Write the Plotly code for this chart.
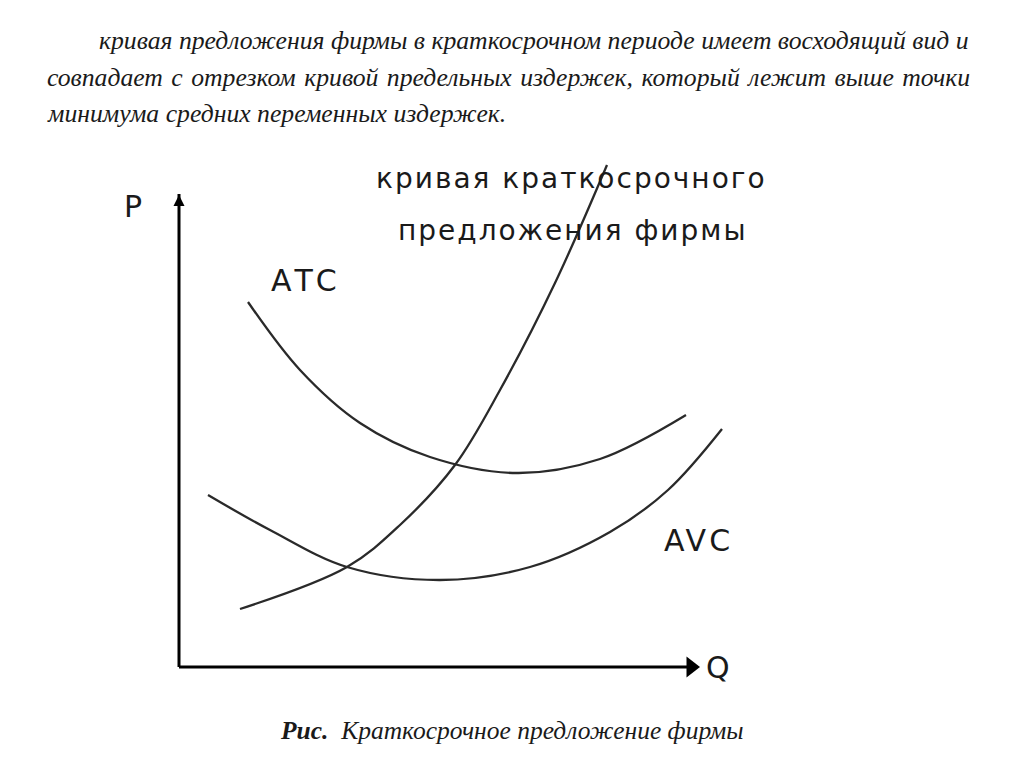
import plotly.graph_objects as go

# Axis origin placed so that one chart unit equals one screen pixel
X0, Y0 = 179, 667

# Cost curves: (Q, P) points along each curve
atc_q = [69, 121, 181, 251, 338, 421, 507]
atc_p = [365, 297, 244, 210, 194, 208, 252]

avc_q = [29, 91, 168, 261, 351, 431, 489, 543]
avc_p = [172, 137, 100, 87, 100, 135, 177, 238]

mc_q = [61, 168, 221, 276, 321, 376, 428]
mc_p = [58, 100, 142, 202, 277, 384, 502]

# Axis extents
p_axis_top = 477
q_axis_end = 521

heading_lines = [
    "кривая предложения фирмы в краткосрочном периоде имеет восходящий вид и",
    "совпадает с отрезком кривой предельных издержек, который лежит выше точки",
    "минимума средних переменных издержек.",
]
heading_word_gap = [0, 2, 0]
supply_label = ["кривая краткосрочного", "предложения фирмы"]
caption_bold = "Рис."
caption_text = "Краткосрочное предложение фирмы"

INK = "#1a1a1a"
SANS = "DejaVu Sans"
SERIF = "Liberation Serif"


def spaced(text, px):
    return f'<span style="letter-spacing:{px}px">{text}</span>'


fig = go.Figure()

for q, p in [(atc_q, atc_p), (avc_q, avc_p), (mc_q, mc_p)]:
    fig.add_trace(go.Scatter(
        x=q, y=p, mode="lines",
        line=dict(color="#2a2a2a", width=2.3, shape="spline", smoothing=1.0),
        hoverinfo="skip", showlegend=False,
    ))

# Coordinate axes
fig.add_trace(go.Scatter(
    x=[0, 0], y=[0, p_axis_top - 4], mode="lines",
    line=dict(color="#000", width=3), hoverinfo="skip", showlegend=False,
))
fig.add_trace(go.Scatter(
    x=[0, q_axis_end - 12], y=[0, 0], mode="lines",
    line=dict(color="#000", width=3), hoverinfo="skip", showlegend=False,
))
fig.add_trace(go.Scatter(
    x=[0], y=[p_axis_top - 5], mode="markers",
    marker=dict(symbol="arrow-up", size=11, color="#000"),
    hoverinfo="skip", showlegend=False,
))
fig.add_trace(go.Scatter(
    x=[q_axis_end - 9], y=[0], mode="markers",
    marker=dict(symbol="triangle-right", size=18, color="#000"),
    hoverinfo="skip", showlegend=False,
))

ann = []
# Axis and curve labels
ann.append(dict(x=-46, y=461, text="P", font=dict(family=SANS, size=30, color=INK)))
ann.append(dict(x=539, y=0, text="Q", font=dict(family=SANS, size=30, color=INK)))
ann.append(dict(x=126, y=387, text=spaced("АТС", 3), font=dict(family=SANS, size=30, color=INK)))
ann.append(dict(x=519, y=127, text=spaced("AVC", 3), font=dict(family=SANS, size=30, color=INK)))
ann.append(dict(x=392, y=489, text=spaced(supply_label[0], 2), font=dict(family=SANS, size=28, color=INK)))
ann.append(dict(x=394, y=437, text=spaced(supply_label[1], 2), font=dict(family=SANS, size=28, color=INK)))

for a in ann:
    a.update(xref="x", yref="y", showarrow=False)

# Explanatory paragraph above the chart
para_x = [97 - X0, 45 - X0, 45 - X0]
para_y = [Y0 - 40, Y0 - 77, Y0 - 113]
for text, gap, px, py in zip(heading_lines, heading_word_gap, para_x, para_y):
    ann.append(dict(
        x=px, y=py, xref="x", yref="y", xanchor="left", yanchor="middle",
        text=f'<i><span style="word-spacing:{gap}px">{text}</span></i>', showarrow=False,
        font=dict(family=SERIF, size=25.7, color=INK),
    ))

# Figure caption
ann.append(dict(
    x=278 - X0, y=Y0 - 730, xref="x", yref="y", xanchor="left", yanchor="middle",
    text=f"<b><i>{caption_bold}</i></b>  <i>{caption_text}</i>", showarrow=False,
    font=dict(family=SERIF, size=25.5, color=INK),
))

fig.update_layout(
    width=1024, height=768,
    margin=dict(l=0, r=0, t=0, b=0),
    paper_bgcolor="white", plot_bgcolor="white",
    xaxis=dict(range=[-X0, 1024 - X0], visible=False, fixedrange=True),
    yaxis=dict(range=[Y0 - 768, Y0], visible=False, fixedrange=True),
    annotations=ann,
    showlegend=False,
)

fig.write_html("out.html")
